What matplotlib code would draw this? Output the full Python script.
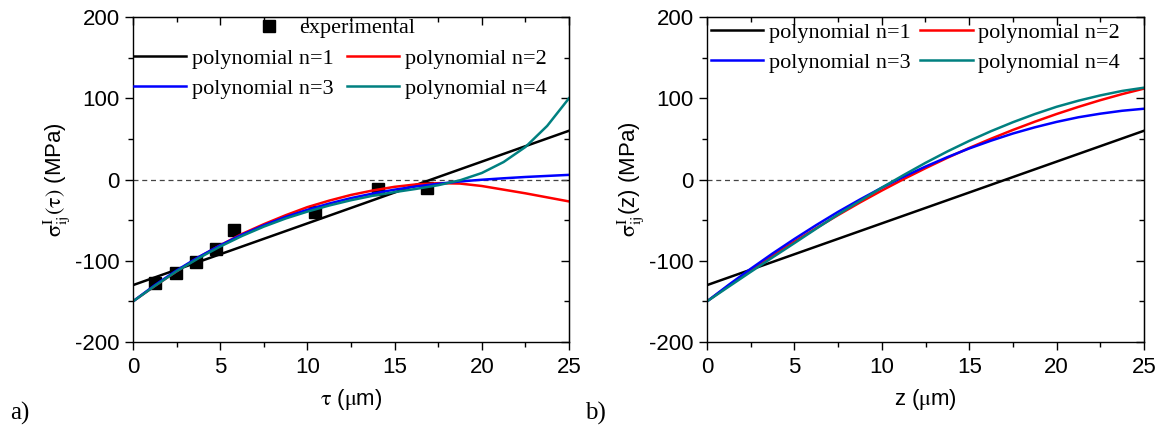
import matplotlib
matplotlib.use('Agg')
import matplotlib.pyplot as plt
from matplotlib.ticker import MultipleLocator
from matplotlib.lines import Line2D

plt.rcParams['font.family'] = ['Liberation Sans', 'DejaVu Sans']
plt.rcParams['mathtext.fontset'] = 'stix'
plt.rcParams['axes.unicode_minus'] = False

# experimental points, panel a)
tau_exp = [1.26, 2.45, 3.61, 4.74, 5.79, 10.44, 14.07, 16.84]
sig_exp = [-127.6, -115, -101.7, -85.3, -62, -39.4, -12.3, -10.5]

# linear fit (same in both panels)
x_lin = [0, 25]
y_lin = [-130, 60]

xs = [0, 1.25, 2.5, 3.75, 5, 6.25, 7.5, 8.75, 10, 11.25, 12.5,
      13.75, 15, 16.25, 17.5, 18.75, 20, 21.25, 22.5, 23.75, 25]

a_n2 = [-150, -131, -113, -96, -81, -67, -55, -44, -34, -26, -19,
        -13.5, -9, -6, -4.5, -5, -8, -12.5, -17, -22, -27]
a_n3 = [-150, -130, -111.9, -95.6, -81, -67.9, -56.4, -46.1, -37.3, -29.6, -22.9,
        -17.3, -12.5, -8.5, -5.3, -2.4, -0.3, 1.5, 3.1, 4.4, 5.7]
a_n4 = [-150, -131, -113, -97, -82.5, -69.5, -58, -48, -39.5, -32, -25.5,
        -20, -15.5, -11.5, -7, -1, 8, 21.5, 40, 66, 100]

b_n2 = [-150, -130.6, -111.9, -93.9, -76.5, -59.8, -43.8, -28.3, -13.6, 0.5, 13.9,
        26.7, 38.8, 50.2, 61.0, 71.1, 80.6, 89.4, 97.6, 105.1, 111.9]
b_n3 = [-150, -129.5, -109.9, -91.1, -73.2, -56.1, -39.8, -24.6, -10.1, 3.4, 15.9,
        27.5, 38.2, 47.8, 56.6, 64.2, 70.9, 76.6, 81.0, 84.6, 87.1]
b_n4 = [-150, -131.8, -113.7, -95.9, -78.3, -60.5, -43, -26.5, -10, 5.5, 20.5,
        34.5, 47.5, 59.5, 70.5, 80.5, 89.5, 97, 103.5, 109, 113]

colors = ['black', '#ff0000', '#0000ff', '#008080']
labels = ['polynomial n=1', 'polynomial n=2', 'polynomial n=3', 'polynomial n=4']

fig = plt.figure(figsize=(11.65, 4.28), dpi=100)
ax1 = fig.add_axes([133/1165, 1-342/428, 436/1165, 325/428])
ax2 = fig.add_axes([707/1165, 1-342/428, 437/1165, 325/428])

lw = 1.8
for ax, curves in ((ax1, (a_n2, a_n3, a_n4)), (ax2, (b_n2, b_n3, b_n4))):
    ax.axhline(0, color='#444444', lw=0.9, ls=(0, (4, 3)), zorder=1)
    ax.plot(x_lin, y_lin, color=colors[0], lw=lw)
    for c, y in zip(colors[1:], curves):
        ax.plot(xs, y, color=c, lw=lw)

ax1.plot(tau_exp, sig_exp, 's', color='black', ms=9, zorder=0.5)

for ax in (ax1, ax2):
    ax.set_xlim(0, 25)
    ax.set_ylim(-200, 200)
    ax.xaxis.set_major_locator(MultipleLocator(5))
    ax.xaxis.set_minor_locator(MultipleLocator(2.5))
    ax.yaxis.set_major_locator(MultipleLocator(100))
    ax.yaxis.set_minor_locator(MultipleLocator(50))
    ax.tick_params(which='both', direction='out', labelsize=16, width=1)
    ax.tick_params(which='major', length=6)
    ax.tick_params(which='minor', length=3.5)
    ax.tick_params(axis='x', pad=5)
    for s in ax.spines.values():
        s.set_linewidth(1)
    sx = ax.secondary_xaxis('top')
    sx.xaxis.set_major_locator(MultipleLocator(5))
    sx.xaxis.set_minor_locator(MultipleLocator(2.5))
    sx.tick_params(which='both', direction='in', labeltop=False, width=1)
    sx.tick_params(which='major', length=6)
    sx.tick_params(which='minor', length=3.5)
    sy = ax.secondary_yaxis('right')
    sy.yaxis.set_major_locator(MultipleLocator(100))
    sy.yaxis.set_minor_locator(MultipleLocator(50))
    sy.tick_params(which='both', direction='in', labelright=False, width=1)
    sy.tick_params(which='major', length=6)
    sy.tick_params(which='minor', length=3.5)

ax1.set_xlabel(r'$\mathrm{\tau}$ ($\mathrm{\mu}$m)', fontsize=16, labelpad=6)
ax1.set_ylabel(r'$\mathrm{\sigma^{I}_{ij}(\tau)}$ (MPa)', fontsize=16, labelpad=2)
ax2.set_xlabel(r'z ($\mathrm{\mu}$m)', fontsize=16, labelpad=6)
ax2.set_ylabel(r'$\mathrm{\sigma^{I}_{ij}}$(z) (MPa)', fontsize=16, labelpad=2)

leg_font = {'family': 'Liberation Serif', 'size': 16}
handles = [Line2D([], [], color=c, lw=lw) for c in colors]
order = [0, 2, 1, 3]

sq = Line2D([], [], ls='none', marker='s', color='black', ms=9)
leg0 = ax1.legend([sq], ['experimental'], loc='center left', bbox_to_anchor=(0.273, 0.966),
                  frameon=False, prop=leg_font, handlelength=1.5, handletextpad=0.6,
                  borderpad=0, borderaxespad=0)
ax1.add_artist(leg0)
ax1.legend([handles[i] for i in order], [labels[i] for i in order], ncol=2,
           loc='center left', bbox_to_anchor=(0.002, 0.826), frameon=False, prop=leg_font,
           handlelength=2.35, handletextpad=0.25, columnspacing=0.6, labelspacing=0.4,
           borderpad=0, borderaxespad=0)
ax2.legend([handles[i] for i in order], [labels[i] for i in order], ncol=2,
           loc='center left', bbox_to_anchor=(0.009, 0.906), frameon=False, prop=leg_font,
           handlelength=2.35, handletextpad=0.25, columnspacing=0.45, labelspacing=0.4,
           borderpad=0, borderaxespad=0)

fig.text(10/1165, 1-420/428, 'a)', family='Liberation Serif', fontsize=18)
fig.text(585/1165, 1-420/428, 'b)', family='Liberation Serif', fontsize=18)

fig.savefig('out.png', dpi=100)
